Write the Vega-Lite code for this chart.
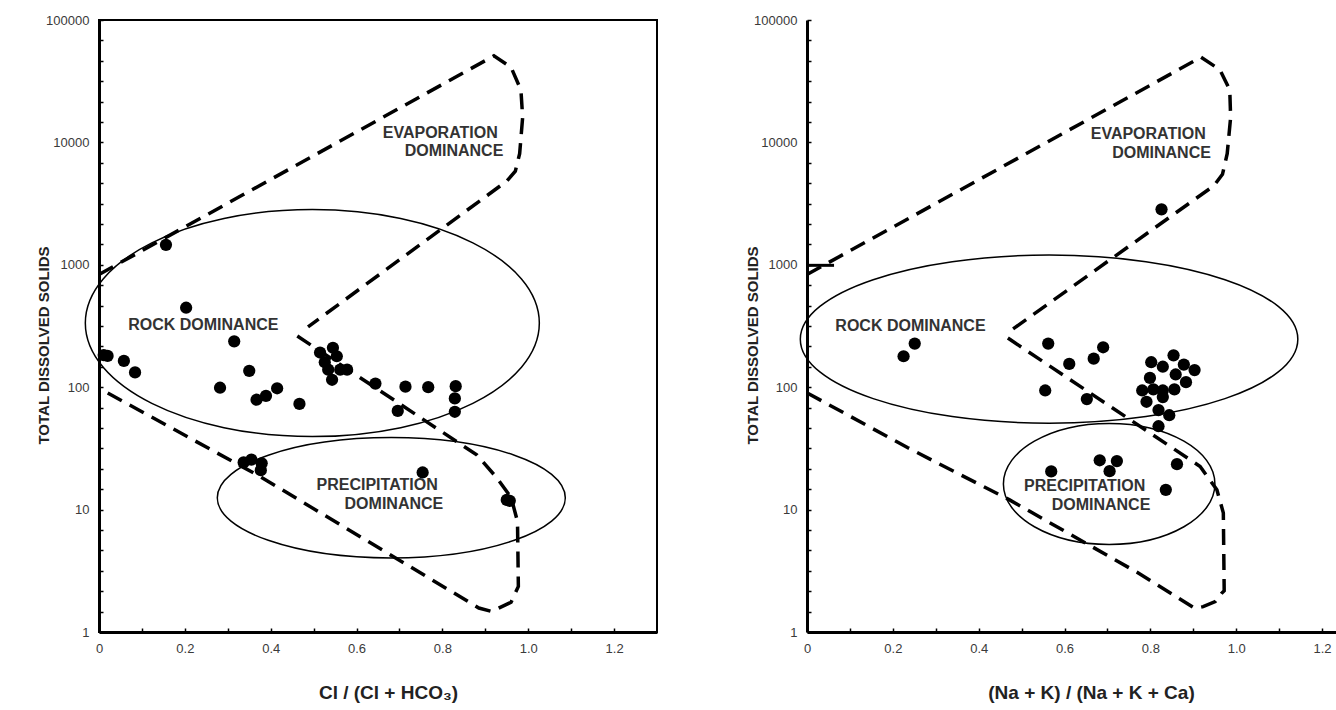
{
  "$schema": "https://vega.github.io/schema/vega-lite/v6.json",
  "background": "white",
  "padding": {"left": 35, "top": 13, "right": 0, "bottom": 0},
  "autosize": {"type": "pad"},
  "spacing": 87,
  "config": {
    "view": {"stroke": "black", "strokeWidth": 2},
    "font": "Liberation Sans",
    "axis": {"grid": false, "domainColor": "black", "domainWidth": 3, "tickColor": "black", "tickWidth": 1.5, "tickSize": -4, "labelFont": "Liberation Sans", "labelFontSize": 13, "labelColor": "#3a3a3a", "titleFont": "Liberation Sans", "titleFontWeight": "bold", "titleColor": "#222"}
  },
  "datasets": {
    "samples": [
      {"p": "L", "x": 0.011, "tds": 183}, {"p": "L", "x": 0.020, "tds": 180}, {"p": "L", "x": 0.058, "tds": 164}, {"p": "L", "x": 0.084, "tds": 132},
      {"p": "L", "x": 0.156, "tds": 1455}, {"p": "L", "x": 0.203, "tds": 446}, {"p": "L", "x": 0.282, "tds": 99}, {"p": "L", "x": 0.315, "tds": 237},
      {"p": "L", "x": 0.350, "tds": 136}, {"p": "L", "x": 0.367, "tds": 79}, {"p": "L", "x": 0.389, "tds": 85}, {"p": "L", "x": 0.415, "tds": 98},
      {"p": "L", "x": 0.467, "tds": 73}, {"p": "L", "x": 0.515, "tds": 192}, {"p": "L", "x": 0.545, "tds": 210}, {"p": "L", "x": 0.554, "tds": 179},
      {"p": "L", "x": 0.534, "tds": 139}, {"p": "L", "x": 0.562, "tds": 139}, {"p": "L", "x": 0.543, "tds": 115}, {"p": "L", "x": 0.578, "tds": 139},
      {"p": "L", "x": 0.526, "tds": 160}, {"p": "L", "x": 0.644, "tds": 107}, {"p": "L", "x": 0.714, "tds": 101}, {"p": "L", "x": 0.767, "tds": 100},
      {"p": "L", "x": 0.831, "tds": 102}, {"p": "L", "x": 0.829, "tds": 81}, {"p": "L", "x": 0.829, "tds": 63}, {"p": "L", "x": 0.696, "tds": 64},
      {"p": "L", "x": 0.337, "tds": 24.3}, {"p": "L", "x": 0.355, "tds": 25.6}, {"p": "L", "x": 0.379, "tds": 23.9}, {"p": "L", "x": 0.377, "tds": 21},
      {"p": "L", "x": 0.754, "tds": 20.1}, {"p": "L", "x": 0.950, "tds": 12}, {"p": "L", "x": 0.957, "tds": 11.8},
      {"p": "R", "x": 0.225, "tds": 179}, {"p": "R", "x": 0.251, "tds": 227}, {"p": "R", "x": 0.562, "tds": 227}, {"p": "R", "x": 0.611, "tds": 155},
      {"p": "R", "x": 0.555, "tds": 94}, {"p": "R", "x": 0.652, "tds": 80}, {"p": "R", "x": 0.690, "tds": 212}, {"p": "R", "x": 0.668, "tds": 171},
      {"p": "R", "x": 0.826, "tds": 2840}, {"p": "R", "x": 0.854, "tds": 182}, {"p": "R", "x": 0.878, "tds": 153}, {"p": "R", "x": 0.903, "tds": 138},
      {"p": "R", "x": 0.802, "tds": 160}, {"p": "R", "x": 0.829, "tds": 147}, {"p": "R", "x": 0.859, "tds": 127}, {"p": "R", "x": 0.799, "tds": 119},
      {"p": "R", "x": 0.883, "tds": 110}, {"p": "R", "x": 0.781, "tds": 94}, {"p": "R", "x": 0.807, "tds": 96}, {"p": "R", "x": 0.829, "tds": 94},
      {"p": "R", "x": 0.856, "tds": 96}, {"p": "R", "x": 0.829, "tds": 83}, {"p": "R", "x": 0.791, "tds": 76}, {"p": "R", "x": 0.819, "tds": 65},
      {"p": "R", "x": 0.844, "tds": 59}, {"p": "R", "x": 0.819, "tds": 48}, {"p": "R", "x": 0.569, "tds": 20.5}, {"p": "R", "x": 0.682, "tds": 25.3},
      {"p": "R", "x": 0.722, "tds": 24.9}, {"p": "R", "x": 0.705, "tds": 20.6}, {"p": "R", "x": 0.862, "tds": 23.5}, {"p": "R", "x": 0.836, "tds": 14.5}
    ],
    "boundary": [
      {"p": "L", "seg": "upper", "i": 1, "x": 0, "tds": 834}, {"p": "L", "seg": "upper", "i": 2, "x": 0.920, "tds": 50900},
      {"p": "L", "seg": "upper", "i": 3, "x": 0.960, "tds": 41100}, {"p": "L", "seg": "upper", "i": 4, "x": 0.983, "tds": 26800},
      {"p": "L", "seg": "upper", "i": 5, "x": 0.987, "tds": 16000}, {"p": "L", "seg": "upper", "i": 6, "x": 0.980, "tds": 8080},
      {"p": "L", "seg": "upper", "i": 7, "x": 0.970, "tds": 5830}, {"p": "L", "seg": "upper", "i": 8, "x": 0.950, "tds": 4830},
      {"p": "L", "seg": "upper", "i": 9, "x": 0.487, "tds": 311},
      {"p": "L", "seg": "lower", "i": 1, "x": 0.462, "tds": 262}, {"p": "L", "seg": "lower", "i": 2, "x": 0.880, "tds": 28},
      {"p": "L", "seg": "lower", "i": 3, "x": 0.925, "tds": 18.5}, {"p": "L", "seg": "lower", "i": 4, "x": 0.960, "tds": 12.6},
      {"p": "L", "seg": "lower", "i": 5, "x": 0.975, "tds": 8}, {"p": "L", "seg": "lower", "i": 6, "x": 0.977, "tds": 2.36},
      {"p": "L", "seg": "lower", "i": 7, "x": 0.960, "tds": 1.75}, {"p": "L", "seg": "lower", "i": 8, "x": 0.915, "tds": 1.47},
      {"p": "L", "seg": "lower", "i": 9, "x": 0.885, "tds": 1.57}, {"p": "L", "seg": "lower", "i": 10, "x": 0.377, "tds": 18.5},
      {"p": "L", "seg": "lower", "i": 11, "x": 0, "tds": 98},
      {"p": "R", "seg": "upper", "i": 1, "x": 0, "tds": 834}, {"p": "R", "seg": "upper", "i": 2, "x": 0.918, "tds": 49600},
      {"p": "R", "seg": "upper", "i": 3, "x": 0.962, "tds": 39300}, {"p": "R", "seg": "upper", "i": 4, "x": 0.985, "tds": 26800},
      {"p": "R", "seg": "upper", "i": 5, "x": 0.987, "tds": 16000}, {"p": "R", "seg": "upper", "i": 6, "x": 0.979, "tds": 8080},
      {"p": "R", "seg": "upper", "i": 7, "x": 0.968, "tds": 5490}, {"p": "R", "seg": "upper", "i": 8, "x": 0.948, "tds": 4430},
      {"p": "R", "seg": "upper", "i": 9, "x": 0.480, "tds": 299},
      {"p": "R", "seg": "lower", "i": 1, "x": 0.468, "tds": 252}, {"p": "R", "seg": "lower", "i": 2, "x": 0.916, "tds": 22.5},
      {"p": "R", "seg": "lower", "i": 3, "x": 0.955, "tds": 14.5}, {"p": "R", "seg": "lower", "i": 4, "x": 0.970, "tds": 9.4},
      {"p": "R", "seg": "lower", "i": 5, "x": 0.972, "tds": 2.17}, {"p": "R", "seg": "lower", "i": 6, "x": 0.966, "tds": 2.07},
      {"p": "R", "seg": "lower", "i": 7, "x": 0.951, "tds": 1.77}, {"p": "R", "seg": "lower", "i": 8, "x": 0.923, "tds": 1.61},
      {"p": "R", "seg": "lower", "i": 9, "x": 0.904, "tds": 1.56}, {"p": "R", "seg": "lower", "i": 10, "x": 0.770, "tds": 3.06},
      {"p": "R", "seg": "lower", "i": 11, "x": 0.472, "tds": 12}, {"p": "R", "seg": "lower", "i": 12, "x": 0.235, "tds": 32},
      {"p": "R", "seg": "lower", "i": 13, "x": 0, "tds": 90}
    ],
    "stub": [
      {"p": "R", "i": 1, "x": 0, "tds": 990}, {"p": "R", "i": 2, "x": 0.063, "tds": 990}
    ],
    "zones": [
      {"p": "L", "zone": "rock", "x": 0.497, "tds": 334}, {"p": "L", "zone": "precip", "x": 0.681, "tds": 12.5},
      {"p": "R", "zone": "rock", "x": 0.564, "tds": 247}, {"p": "R", "zone": "precip", "x": 0.704, "tds": 16.2}
    ],
    "labels": [
      {"p": "L", "text": "EVAPORATION", "x": 0.795, "tds": 11860}, {"p": "L", "text": "DOMINANCE", "x": 0.827, "tds": 8430},
      {"p": "L", "text": "ROCK DOMINANCE", "x": 0.243, "tds": 325}, {"p": "L", "text": "PRECIPITATION", "x": 0.648, "tds": 15.8},
      {"p": "L", "text": "DOMINANCE", "x": 0.687, "tds": 11.2},
      {"p": "R", "text": "EVAPORATION", "x": 0.795, "tds": 11670}, {"p": "R", "text": "DOMINANCE", "x": 0.826, "tds": 8220},
      {"p": "R", "text": "ROCK DOMINANCE", "x": 0.241, "tds": 317}, {"p": "R", "text": "PRECIPITATION", "x": 0.647, "tds": 15.6},
      {"p": "R", "text": "DOMINANCE", "x": 0.685, "tds": 11.0}
    ]
  },
  "resolve": {"scale": {"x": "independent", "y": "independent"}},
  "hconcat": [
    {
      "width": 558,
      "height": 612,
      "encoding": {
        "x": {"field": "x", "type": "quantitative", "scale": {"domain": [0, 1.3], "nice": false, "zero": false},
          "axis": {"values": [0, 0.1, 0.2, 0.3, 0.4, 0.5, 0.6, 0.7, 0.8, 0.9, 1, 1.1, 1.2], "labelFlush": false,
            "labelExpr": "datum.value == 0 ? '0' : (round(datum.value * 10) % 2 == 0 ? format(datum.value, '.1f') : '')",
            "labelPadding": 14, "title": "Cl / (Cl + HCO₃)", "titleFontSize": 19, "titleX": 289, "titleY": 60, "titleBaseline": "middle", "titleAlign": "center"}},
        "y": {"field": "tds", "type": "quantitative", "scale": {"type": "log", "domain": [1, 100000], "nice": false},
          "axis": {"values": [1, 1.468, 2.154, 3.162, 4.642, 6.813, 10, 14.68, 21.54, 31.62, 46.42, 68.13, 100, 146.8, 215.4, 316.2, 464.2, 681.3, 1000, 1468, 2154, 3162, 4642, 6813, 10000, 14678, 21544, 31623, 46416, 68129, 100000],
            "labelExpr": "indexof([1, 10, 100, 1000, 10000, 100000], datum.value) >= 0 ? format(datum.value, 'd') : ''",
            "labelPadding": 14, "labelFlush": false, "title": "TOTAL DISSOLVED SOLIDS", "titleFontSize": 15, "titleX": -56, "titleY": 325, "titleBaseline": "middle", "titleAlign": "center", "titleAngle": -90}}
      },
      "layer": [
        {"data": {"name": "zones"}, "transform": [{"filter": "datum.p == 'L' && datum.zone == 'rock'"}],
          "mark": {"type": "point", "shape": "M -1 0 A 1 0.5 0 1 1 1 0 A 1 0.5 0 1 1 -1 0 Z", "size": 206116, "filled": false, "stroke": "black", "strokeWidth": 1.5, "opacity": 1}},
        {"data": {"name": "zones"}, "transform": [{"filter": "datum.p == 'L' && datum.zone == 'precip'"}],
          "mark": {"type": "point", "shape": "M -1 0 A 1 0.346 0 1 1 1 0 A 1 0.346 0 1 1 -1 0 Z", "size": 121104, "filled": false, "stroke": "black", "strokeWidth": 1.5, "opacity": 1}},
        {"data": {"name": "boundary"}, "transform": [{"filter": "datum.p == 'L'"}],
          "mark": {"type": "line", "color": "black", "strokeWidth": 3.5, "strokeDash": [16, 9]},
          "encoding": {"order": {"field": "i", "type": "quantitative"}, "detail": {"field": "seg", "type": "nominal"}}},
        {"data": {"name": "labels"}, "transform": [{"filter": "datum.p == 'L'"}],
          "mark": {"type": "text", "font": "Liberation Sans", "fontSize": 16, "fontWeight": "bold", "color": "#333", "align": "center", "baseline": "middle"},
          "encoding": {"text": {"field": "text", "type": "nominal"}}},
        {"data": {"name": "samples"}, "transform": [{"filter": "datum.p == 'L'"}],
          "mark": {"type": "circle", "size": 150, "color": "black", "opacity": 1}}
      ]
    },
    {
      "width": 529,
      "height": 612,
      "view": {"stroke": null},
      "encoding": {
        "x": {"field": "x", "type": "quantitative", "scale": {"domain": [0, 1.2325], "nice": false, "zero": false},
          "axis": {"values": [0, 0.1, 0.2, 0.3, 0.4, 0.5, 0.6, 0.7, 0.8, 0.9, 1, 1.1, 1.2], "labelFlush": false,
            "labelExpr": "datum.value == 0 ? '0' : (round(datum.value * 10) % 2 == 0 ? format(datum.value, '.1f') : '')",
            "labelPadding": 14, "title": "(Na + K) / (Na + K + Ca)", "titleFontSize": 19, "titleX": 284, "titleY": 60, "titleBaseline": "middle", "titleAlign": "center"}},
        "y": {"field": "tds", "type": "quantitative", "scale": {"type": "log", "domain": [1, 100000], "nice": false},
          "axis": {"values": [1, 1.468, 2.154, 3.162, 4.642, 6.813, 10, 14.68, 21.54, 31.62, 46.42, 68.13, 100, 146.8, 215.4, 316.2, 464.2, 681.3, 1000, 1468, 2154, 3162, 4642, 6813, 10000, 14678, 21544, 31623, 46416, 68129, 100000],
            "labelExpr": "indexof([1, 10, 100, 1000, 10000, 100000], datum.value) >= 0 ? format(datum.value, 'd') : ''",
            "labelPadding": 14, "labelFlush": false, "title": "TOTAL DISSOLVED SOLIDS", "titleFontSize": 15, "titleX": -55, "titleY": 325, "titleBaseline": "middle", "titleAlign": "center", "titleAngle": -90}}
      },
      "layer": [
        {"mark": {"type": "rule", "color": "black", "strokeWidth": 2.5},
          "encoding": {"x": null, "y": {"datum": 100000, "type": "quantitative"}}},
        {"data": {"name": "zones"}, "transform": [{"filter": "datum.p == 'R' && datum.zone == 'rock'"}],
          "mark": {"type": "point", "shape": "M -1 0 A 1 0.338 0 1 1 1 0 A 1 0.338 0 1 1 -1 0 Z", "size": 247506, "filled": false, "stroke": "black", "strokeWidth": 1.5, "opacity": 1}},
        {"data": {"name": "zones"}, "transform": [{"filter": "datum.p == 'R' && datum.zone == 'precip'"}],
          "mark": {"type": "point", "shape": "M -1 0 A 1 0.572 0 1 1 1 0 A 1 0.572 0 1 1 -1 0 Z", "size": 44732, "filled": false, "stroke": "black", "strokeWidth": 1.5, "opacity": 1}},
        {"data": {"name": "boundary"}, "transform": [{"filter": "datum.p == 'R'"}],
          "mark": {"type": "line", "color": "black", "strokeWidth": 3.5, "strokeDash": [16, 9]},
          "encoding": {"order": {"field": "i", "type": "quantitative"}, "detail": {"field": "seg", "type": "nominal"}}},
        {"data": {"name": "stub"},
          "mark": {"type": "line", "color": "black", "strokeWidth": 3},
          "encoding": {"order": {"field": "i", "type": "quantitative"}}},
        {"data": {"name": "labels"}, "transform": [{"filter": "datum.p == 'R'"}],
          "mark": {"type": "text", "font": "Liberation Sans", "fontSize": 16, "fontWeight": "bold", "color": "#333", "align": "center", "baseline": "middle"},
          "encoding": {"text": {"field": "text", "type": "nominal"}}},
        {"data": {"name": "samples"}, "transform": [{"filter": "datum.p == 'R'"}],
          "mark": {"type": "circle", "size": 150, "color": "black", "opacity": 1}}
      ]
    }
  ]
}
